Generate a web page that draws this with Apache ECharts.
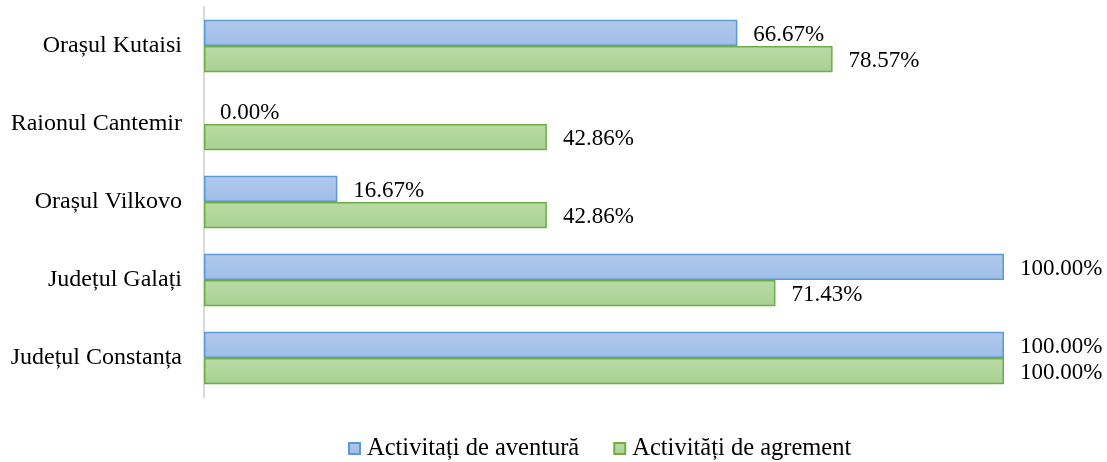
<!DOCTYPE html>
<html>
<head>
<meta charset="utf-8">
<script src="https://cdn.jsdelivr.net/npm/echarts@6/dist/echarts.min.js"></script>
<style>
  html, body { margin: 0; padding: 0; background: #fff; }
  #chart { width: 1107px; height: 462px; }
</style>
</head>
<body>
<div id="chart"></div>
<script>
// categories bottom to top (ECharts category axis starts at bottom)
var categories = ["Județul Constanța", "Județul Galați", "Orașul Vilkovo", "Raionul Cantemir", "Orașul Kutaisi"];
var aventura = [100, 100, 16.67, 0, 66.67];
var agrement = [100, 71.43, 42.86, 42.86, 78.57];
var seriesNames = ["Activitați de aventură", "Activități de agrement"];

var font = "'Liberation Serif', 'Times New Roman', serif";
var myChart = echarts.init(document.getElementById("chart"));

function labelCfg() {
  return {
    show: true,
    position: "right",
    distance: 16,
    offset: [0, 2],
    color: "#000",
    fontFamily: font,
    fontSize: 23,
    formatter: function(p) {
      return p.value.toFixed(2) + "%";
    }
  };
}

// zero-length bars get no outline
function barData(arr) {
  return arr.map(function(v) {
    return v === 0 ? { value: v, itemStyle: { borderWidth: 0 } } : v;
  });
}

var option = {
  animation: false,
  backgroundColor: "#fff",
  grid: {
    left: 204,
    right: 103,
    top: 7,
    bottom: 65
  },
  legend: {
    bottom: -4,
    left: 343,
    icon: "rect",
    itemWidth: 11,
    itemHeight: 11,
    itemGap: 34,
    textStyle: { color: "#000", fontFamily: font, fontSize: 24.5, padding: [0, 0, 0, 2] },
    data: seriesNames
  },
  xAxis: {
    type: "value",
    min: 0,
    max: 100,
    show: false
  },
  yAxis: {
    type: "category",
    data: categories,
    axisLine: { lineStyle: { color: "#d9d9d9", width: 2 } },
    axisTick: { show: false },
    axisLabel: {
      color: "#000",
      fontFamily: font,
      fontSize: 24,
      margin: 22
    }
  },
  series: [
    {
      name: seriesNames[0],
      type: "bar",
      data: barData(aventura),
      barGap: "0%",
      barCategoryGap: "33%",
      itemStyle: {
        color: new echarts.graphic.LinearGradient(0, 0, 0, 1, [
          { offset: 0, color: "#b1c9ec" },
          { offset: 1, color: "#9ebde6" }
        ]),
        borderColor: "#5b9bd5",
        borderWidth: 1.5
      },
      label: labelCfg()
    },
    {
      name: seriesNames[1],
      type: "bar",
      data: barData(agrement),
      barGap: "0%",
      barCategoryGap: "33%",
      itemStyle: {
        color: new echarts.graphic.LinearGradient(0, 0, 0, 1, [
          { offset: 0, color: "#b9dba6" },
          { offset: 1, color: "#a9d193" }
        ]),
        borderColor: "#70ad47",
        borderWidth: 1.5
      },
      label: labelCfg()
    }
  ]
};
myChart.setOption(option);
</script>
</body>
</html>
